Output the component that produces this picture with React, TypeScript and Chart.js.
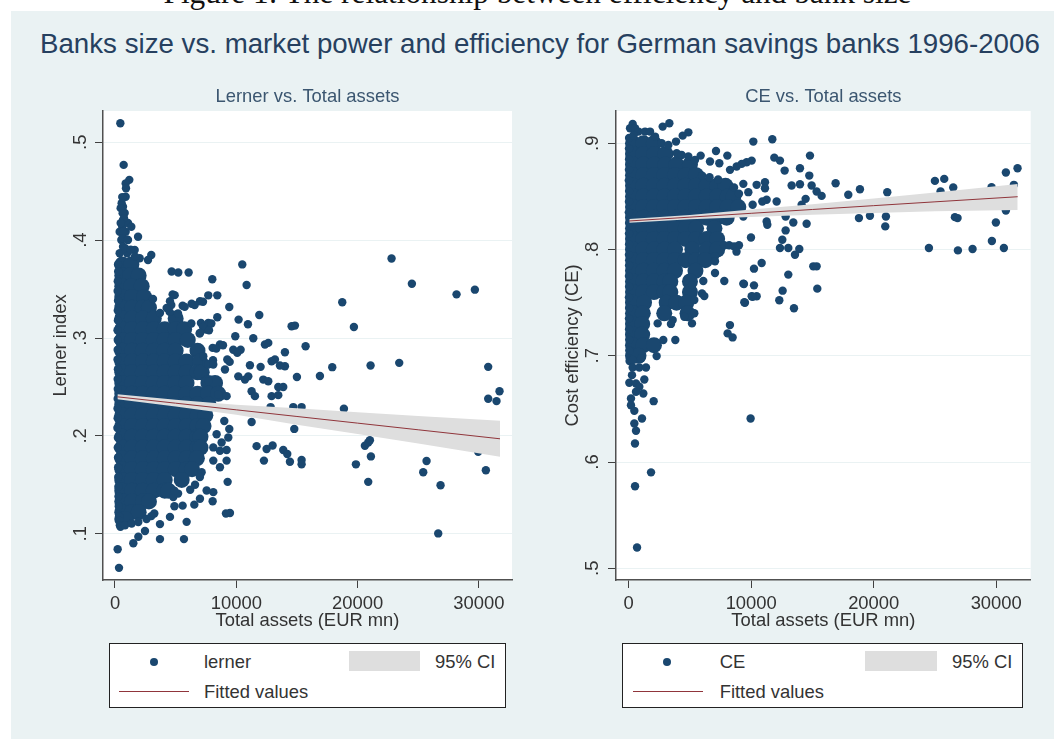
import React, { useEffect, useRef } from "react";
import { Chart, registerables } from "chart.js";

Chart.register(...registerables);

type P = [number, number];
type Row = [number, number[]];

const pageHeading = "Figure 1: The relationship between efficiency and bank size";
const mainTitle = "Banks size vs. market power and efficiency for German savings banks 1996-2006";
const xTicks = [0, 10000, 20000, 30000];
const lernerYTicks = [0.1, 0.2, 0.3, 0.4, 0.5];
const ceYTicks = [0.5, 0.6, 0.7, 0.8, 0.9];

// ---------- Lerner panel ----------
const lernerScattered: P[] = [
  [440,.5194],[714,.4769],[1181,.4616],[880,.458],[906,.453],[880,.4444],[600,.444],[660,.4342],[800,.4277],[660,.4206],[600,.4137],[1070,.4175],[385,.4086],[880,.4086],[1344,.4137],[1900,.4035],[520,.4002],[1070,.4002],[660,.3933],[1624,.3899],[385,.3866],[1000,.3866],[2035,.3815],[2990,.3848],[2720,.3797],[549,.4378],[467,.4327],[632,.4276],[742,.4225],[467,.4174],[687,.4089],[632,.4021],[1016,.4004],[824,.3919],[1291,.3902],[1648,.3834],
  [4670,.368],[5219,.367],[6071,.367],[8021,.36],[10493,.3752],[10851,.3541],[4752,.3446],[7692,.3436],[8433,.3436],[7005,.3375],[6318,.335],[5576,.333],[9422,.3317],[3132,.3399],[22800,.3813],[24476,.3555],[28157,.3446],[29668,.3494],[18735,.3365],[19696,.3113],[11895,.3235],[10191,.3188],[10961,.314],[8433,.3212],[7692,.3154],[7087,.3154],[7499,.3086],[9917,.3018],[11400,.2997],[8653,.2933],[8049,.2899],[12361,.2933],[12636,.295],[15713,.2916],[14010,.2855],[14834,.3127],[14560,.312],[9752,.288],[10356,.288],[10081,.2848],[9257,.278],[13186,.278],[12911,.2763],[11125,.2722],[12004,.2705],[14010,.2712],[13598,.2719],[17911,.2702],[21070,.2719],[23432,.2746],[30766,.2705],[9065,.2678],
  [7255,.3114],[7942,.3148],[7750,.308],[8354,.2892],[8904,.2926],[6293,.3148],[6980,.3046],[6568,.3336],[7255,.337],[5744,.3318],[4919,.3438],[4644,.3336],[5194,.325],[4507,.3267],[8079,.2773],[7530,.2739],[9453,.2756],
  [10164,.2608],[10988,.2608],[10713,.2575],[12224,.2575],[12636,.2558],[13872,.25],[13460,.25],[14998,.2602],[16894,.2612],[11263,.2456],[11537,.2406],[12911,.2406],[13460,.2416],[9202,.2406],[8516,.2423],[31700,.2456],[30766,.2379],[31453,.2355],[18872,.2277],[14696,.2294],[15383,.2294],[12829,.2294],[11263,.2142],[9010,.2152],[14779,.2071],[9422,.2071],[11675,.1895],[12499,.1865],[12993,.1902],[13872,.1855],[14202,.1814],[14422,.1736],[12279,.1747],[15383,.1753],[15383,.1709],[21015,.1956],[20877,.1932],[20603,.1899],[21097,.179],[19861,.1709],[20877,.153],[25685,.1743],[25410,.1628],[26839,.1496],[30574,.1648],[29942,.1838],[26646,.1003],
  [9202,.1855],[9202,.1747],[8653,.1679],[9285,.153],[8104,.1425],[7554,.1442],[7005,.1358],[8049,.1331],[6538,.1297],[5576,.1287],[4807,.1375],[9477,.1212],[9147,.1206],[5906,.1121],[5686,.0945],[3708,.0945],[2472,.1027],[1923,.0969],[1511,.0902],[220,.0841],[330,.0651],[4533,.1172],[3708,.1098],[3241,.1206],[7142,.1628],[8104,.1747],[8790,.1932],[9340,.1983],[8653,.1848],[8104,.1882],[8378,.2017],[7692,.2558],[3708,.3256],[4258,.3307],[4533,.3375],[7005,.3052],[7280,.2814],[7692,.2729],[8104,.2729],
  [400,.1087],[450,.107],[824,.1087],[1374,.1104],[1923,.112],[2600,.115],[3000,.118],[4900,.128],[5200,.141],[6200,.145],[6600,.15],[7000,.158],[4900,.144]
];
const lernerLeftEdge: P[] = [
  [250,.375],[260,.368],[230,.358],[220,.348],[250,.338],[230,.328],[240,.318],[210,.308],[230,.298],[220,.288],[210,.278],[240,.268],[220,.258],[230,.248],[220,.238],[210,.228],[220,.218],[200,.208],[240,.198],[230,.188],[250,.178],[260,.168],[270,.158],[280,.148],[290,.138],[310,.128],[340,.118],[380,.113]
];
const lernerCloudRows: Row[] = [
  [.375,[600,1350]],
  [.364,[600,1250,1950]],
  [.353,[600,1350,2200]],
  [.342,[600,1400,2400]],
  [.331,[600,1400,2300,2800]],
  [.32,[600,1400,2300,3200,5000]],
  [.309,[600,1400,2300,3200,4100,5000,5700]],
  [.298,[600,1400,2300,3200,4100,5000,6000]],
  [.287,[600,1400,2300,3200,4100,5000,6800]],
  [.276,[600,1400,2300,3200,4100,5000,5900,7000]],
  [.265,[600,1400,2300,3200,4100,5000,5900,6800,7150]],
  [.254,[600,1400,2300,3200,4100,5000,5900,7700,8250]],
  [.243,[600,1400,2300,3200,4100,5000,5900,6800,7700,8500]],
  [.232,[600,1400,2300,3200,4100,5000,5900,6800,7700]],
  [.221,[600,1400,2300,3200,4100,5000,5900,6800,7450]],
  [.21,[600,1400,2300,3200,4100,5000,5900,6800,7300]],
  [.199,[600,1400,2300,3200,4100,5000,5900,6800,7050]],
  [.188,[600,1400,2300,3200,4100,5000,5900,6800,7050]],
  [.177,[600,1400,2300,3200,4100,5000,5900,6750]],
  [.166,[600,1400,2300,3200,4100,5000,5900,6350]],
  [.155,[600,1400,2300,3200,4100,5500]],
  [.144,[600,1400,2300,3200,4100,4400]],
  [.133,[600,1400,2300,2800]],
  [.122,[600,1400,1950]],
  [.115,[600,850]]
];
const lernerFitX = [200, 5000, 10000, 15000, 20000, 25000, 31740];
const lernerFit = [.2399, .2334, .2266, .2198, .213, .2062, .197];
const lernerUpper = [.2424, .2369, .2317, .2283, .224, .2202, .2154];
const lernerLower = [.2374, .2299, .2215, .2113, .202, .1922, .1786];

// ---------- Cost efficiency panel ----------
const ceScattered: P[] = [
  [3318,.9188],[2774,.9157],[4869,.9103],[4406,.9072],[3862,.9016],[10173,.9016],[11723,.9038],[14797,.8884],[7126,.8928],[5875,.8884],[8051,.8884],[6637,.8828],[7398,.8812],[10037,.8837],[9629,.8822],[9221,.8806],[8813,.8781],[8269,.875],[11886,.8865],[12349,.8837],[12730,.8743],[13981,.8765],[14742,.8696],[16891,.8624],[13301,.8602],[13981,.8615],[14933,.8602],[9357,.8618],[10445,.8609],[11125,.8634],[11125,.8577],[9765,.854],[15341,.8546],[15749,.8505],[17925,.8515],[18877,.8568],[21107,.854],[24997,.8646],[25758,.8665],[26493,.8584],[25459,.8546],[29621,.8587],[30790,.8725],[31742,.8765],[31443,.8609],[14443,.8477],[12077,.8452],[11261,.8468],[10907,.8452],[10118,.8421],[14117,.8421],
  [9357,.8311],[12811,.8311],[11261,.8264],[11315,.8233],[13437,.8255],[14525,.8243],[12811,.818],[18795,.8296],[19693,.8318],[20998,.8311],[20944,.8218],[26629,.8305],[26846,.8296],[29974,.8255],[30790,.8368],[9982,.8114],[12539,.8092],[12349,.8014],[13029,.8014],[13926,.8005],[13573,.7951],[24507,.8014],[26874,.7992],[28070,.8005],[29648,.808],[30627,.8014],[10853,.7873],[10227,.782],[15069,.7842],[15341,.7842],[13029,.7764],[9357,.7679],[10227,.7663],[15395,.7632],[12566,.7613],[10037,.756],[10445,.756],[9438,.7504],[12294,.7523],[13491,.7447],
  [7800,.804],[8200,.804],[8600,.803],[9000,.804],[8800,.798],
  [5165,.7305],[8265,.7289],[8075,.7211],[8483,.7173],[9490,.7499],[10115,.7556],[9408,.7675],[7803,.7704],[6089,.7704],[5981,.7587],[6171,.7562],[5165,.7666],[5355,.7525],[5355,.74],[4539,.7368],[3587,.7336],[2363,.7305],[3450,.73],[7045,.7936],[7045,.789],[7045,.7779],
  [323,.696],[323,.689],[867,.689],[1411,.689],[1003,.6975],[2281,.6997],[2825,.7148],[3805,.7148],[269,.6818],[51,.6746],[595,.674],[867,.6708],[1275,.6777],[1193,.6645],[595,.6661],[187,.6598],[187,.6535],[459,.6482],[2037,.6573],[1085,.641],[459,.6363],[595,.6294],[513,.6174],[9952,.641],[1822,.5903],[517,.5772],[680,.5196],
  [326,.9182],[109,.9141],[517,.9141],[800,.911],[1333,.911],[1741,.911],[2149,.9063],[400,.9075],[2693,.9],[3237,.8984],[3917,.8906],[4325,.889],[4869,.8875],[5413,.8843],[6000,.8695],[6600,.868],[7300,.866],[8600,.8585],[9000,.8525]
];
const ceLeftEdge: P[] = [
  [30,.905],[20,.895],[30,.885],[20,.875],[10,.865],[30,.855],[20,.845],[10,.835],[30,.825],[20,.815],[30,.805],[20,.795],[30,.785],[20,.775],[30,.765],[20,.755],[30,.745],[20,.735],[30,.725],[40,.715],[50,.705],[70,.695]
];
const ceCloudRows: Row[] = [
  [.9,[350,1200,2050]],
  [.89,[350,1200,2100,3000]],
  [.88,[350,1200,2100,3000,3900,5000]],
  [.87,[350,1200,2060,2920,3780,4640,5500]],
  [.86,[350,1200,2060,2920,3780,4640,5500,6360,7220,7900]],
  [.85,[350,1200,2060,2920,3780,4640,5500,6360,7220,8080,8550]],
  [.84,[350,1200,2060,2920,3780,4640,5500,6360,7220,8080,8950]],
  [.83,[350,1200,2060,2920,3780,4640,5500,6360,7220,8000]],
  [.82,[350,1200,2060,2920,3780,4640,5500,7000]],
  [.81,[350,1200,2060,2920,3780,4640,5500,6360,7220]],
  [.8,[350,1200,2060,2920,3780,5200,6360,7220]],
  [.79,[350,1200,2060,2920,3780,4640,5500,6250]],
  [.78,[350,1200,2060,2920,3780,5450]],
  [.77,[350,1200,2060,2920,3400,5000]],
  [.76,[350,1200,2060,2920,3400,5000]],
  [.75,[350,1250,3100,3900,4700]],
  [.74,[350,1150,2900,4800]],
  [.73,[350,1100]],
  [.72,[350,1100]],
  [.71,[350,1200,2060]],
  [.7,[350,800]]
];
const ceFitX = [50, 5000, 10000, 15000, 20000, 25000, 31755];
const ceFit = [.8269, .8305, .8341, .8377, .8413, .8449, .8497];
const ceUpper = [.8287, .8325, .8376, .8427, .8481, .8537, .8617];
const ceLower = [.8251, .8285, .8306, .8327, .8345, .8361, .8372];

const NAVY = "#1a476f";
const BG = "#eaf2f3";
const MAROON = "#90353b";
const BAND = "#dedede";
const TEXT = "#333333";
const SANS = "'Liberation Sans', Arial, sans-serif";
const FONT_SIZE = 18.4;

const cloud = (rows: Row[]) => rows.flatMap(([y, xs]) => xs.map((x) => ({ x, y })));
const pts = (list: P[]) => list.map(([x, y]) => ({ x, y }));
const series = (xs: number[], ys: number[]) => xs.map((x, i) => ({ x, y: ys[i] }));

type PanelCfg = {
  left: number; width: number; yWidth: number; rightPad: number;
  xMin: number; xMax: number; yMin: number; yMax: number;
  title: string; yTitle: string; yTicks: number[]; yTitlePad: number; yTickPad: number;
  scattered: P[]; edge: P[]; rows: Row[];
  fitX: number[]; fit: number[]; upper: number[]; lower: number[]; name: string;
};

const panels: PanelCfg[] = [
  { left: 0, width: 530, yWidth: 103, rightPad: 18, xMin: -989, xMax: 32729, yMin: .0527, yMax: .532,
    title: "Lerner vs. Total assets", yTitle: "Lerner index", yTicks: lernerYTicks, yTitlePad: 50, yTickPad: 6.4,
    scattered: lernerScattered, edge: lernerLeftEdge, rows: lernerCloudRows,
    fitX: lernerFitX, fit: lernerFit, upper: lernerUpper, lower: lernerLower, name: "lerner" },
  { left: 530, width: 524, yWidth: 86, rightPad: 23.3, xMin: -1037, xMax: 32816, yMin: .489, yMax: .9304,
    title: "CE vs. Total assets", yTitle: "Cost efficiency (CE)", yTicks: ceYTicks, yTitlePad: 32, yTickPad: 7.4,
    scattered: ceScattered, edge: ceLeftEdge, rows: ceCloudRows,
    fitX: ceFitX, fit: ceFit, upper: ceUpper, lower: ceLower, name: "CE" },
];

const whitePlot = {
  id: "whitePlot",
  beforeDraw(c: any) {
    const { ctx, chartArea: a } = c;
    ctx.save();
    ctx.fillStyle = "#ffffff";
    ctx.fillRect(a.left, a.top, a.right - a.left, a.bottom - a.top);
    ctx.restore();
  },
};

function Panel({ cfg }: { cfg: PanelCfg }) {
  const ref = useRef<HTMLCanvasElement | null>(null);
  useEffect(() => {
    const marker = { showLine: false, backgroundColor: NAVY, borderWidth: 0, pointBorderWidth: 0, pointBackgroundColor: NAVY, pointHoverRadius: 4 };
    const chart = new Chart(ref.current as HTMLCanvasElement, {
      type: "scatter",
      data: {
        datasets: [
          { label: "Fitted values", type: "line", data: series(cfg.fitX, cfg.fit), borderColor: MAROON, borderWidth: 1, pointRadius: 0, order: 0, fill: false } as any,
          { label: "95% CI upper", type: "line", data: series(cfg.fitX, cfg.upper), borderWidth: 0, borderColor: "transparent", pointRadius: 0, order: 1, fill: false } as any,
          { label: "95% CI", type: "line", data: series(cfg.fitX, cfg.lower), borderWidth: 0, borderColor: "transparent", pointRadius: 0, order: 1, fill: { target: 1 }, backgroundColor: BAND } as any,
          { label: cfg.name, data: pts(cfg.scattered), pointRadius: 4.2, order: 2, ...marker },
          { label: cfg.name + " left edge", data: pts(cfg.edge), pointRadius: 4.2, order: 2, ...marker },
          { label: cfg.name + " dense mass", data: cloud(cfg.rows), pointRadius: 8, order: 2, ...marker },
        ],
      },
      options: {
        responsive: false,
        animation: false,
        events: [],
        layout: { padding: { left: 0, right: cfg.rightPad, top: 0, bottom: 0 } },
        plugins: {
          legend: { display: false },
          tooltip: { enabled: false },
          title: {
            display: true, text: cfg.title, color: "#3b5670", fullSize: false,
            font: { family: SANS, size: FONT_SIZE, weight: "normal", lineHeight: 1.2 },
            padding: { top: 6, bottom: 2.9 },
          },
        },
        scales: {
          x: {
            type: "linear", min: cfg.xMin, max: cfg.xMax,
            afterBuildTicks: (s: any) => { s.ticks = xTicks.map((value) => ({ value })); },
            afterFit: (s: any) => { s.height = 60; },
            grid: { drawOnChartArea: false, drawTicks: true, tickLength: 8, tickColor: "#404040", tickWidth: 1 },
            border: { color: "#505050", width: 1.5 },
            ticks: { color: TEXT, font: { family: SANS, size: FONT_SIZE }, padding: 4.5, maxRotation: 0, autoSkip: false,
              callback: (v: any) => String(v) },
            title: { display: true, text: "Total assets (EUR mn)", color: TEXT, font: { family: SANS, size: FONT_SIZE }, padding: { top: 0, bottom: 8.3 } },
          },
          y: {
            type: "linear", min: cfg.yMin, max: cfg.yMax,
            afterBuildTicks: (s: any) => { s.ticks = cfg.yTicks.map((value) => ({ value })); },
            afterFit: (s: any) => { s.width = cfg.yWidth; },
            grid: { color: BG, lineWidth: 1, tickLength: 8, tickColor: "#404040", tickWidth: 1 },
            border: { color: "#505050", width: 1.5 },
            ticks: {
              color: TEXT, font: { family: SANS, size: FONT_SIZE }, minRotation: 90, maxRotation: 90, crossAlign: "center",
              padding: cfg.yTickPad, autoSkip: false,
              callback: (v: any) => Number(v).toFixed(1).replace(/^0/, ""),
            },
            title: { display: true, text: cfg.yTitle, color: TEXT, font: { family: SANS, size: FONT_SIZE }, padding: { top: cfg.yTitlePad, bottom: 0 } },
          },
        },
      } as any,
      plugins: [whitePlot],
    } as any);
    return () => chart.destroy();
  }, [cfg]);
  return <canvas ref={ref} width={cfg.width} height={560} style={{ position: "absolute", left: cfg.left, top: 80, width: cfg.width, height: 560 }} />;
}

const abs = (o: React.CSSProperties): React.CSSProperties => ({ position: "absolute", ...o });

function LegendBox({ left, width, name, dx }: { left: number; width: number; name: string; dx: number[] }) {
  const label = (text: string, x: number, cy: number) => (
    <div style={abs({ left: x - left, top: cy - 642.7 - 12, height: 24, lineHeight: "24px", fontSize: FONT_SIZE, color: TEXT, whiteSpace: "nowrap" })}>{text}</div>
  );
  return (
    <div style={abs({ left, top: 642.7, width, height: 65, background: "#fff", border: "1px solid #222", boxSizing: "border-box", fontFamily: SANS })}>
      <div style={abs({ left: dx[0] - left - 4, top: 661 - 642.7 - 4, width: 8, height: 8, borderRadius: 4, background: NAVY })} />
      {label(name, dx[1], 661)}
      <div style={abs({ left: dx[2] - left, top: 650 - 642.7, width: dx[3] - dx[2], height: 20, background: BAND })} />
      {label("95% CI", dx[4], 661)}
      <div style={abs({ left: dx[5] - left, top: 690 - 642.7, width: dx[6] - dx[5], height: 1, background: MAROON })} />
      {label("Fitted values", dx[1], 691)}
    </div>
  );
}

export default function App() {
  return (
    <div style={{ position: "fixed", left: 0, top: 0, width: 1054, height: 739, overflow: "hidden", background: "#fff" }}>
      <div style={abs({ left: 10.5, width: 1054, top: -21.7, textAlign: "center", fontFamily: "'Liberation Serif', serif", fontSize: 31.3, lineHeight: "30px", color: "#111", whiteSpace: "nowrap" })}>{pageHeading}</div>
      <div style={abs({ left: 11, top: 11, width: 1043, height: 728, background: BG })} />
      <div style={abs({ left: 40, top: 29, fontFamily: SANS, fontSize: 27.7, lineHeight: "30px", color: "#26405f", whiteSpace: "nowrap" })}>{mainTitle}</div>
      {panels.map((p) => <Panel key={p.name} cfg={p} />)}
      <LegendBox left={109} width={397} name="lerner" dx={[153.3, 203, 348, 419, 434, 118, 187.7]} />
      <LegendBox left={622.3} width={401} name="CE" dx={[666, 718.7, 864, 936, 951, 631.7, 702]} />
    </div>
  );
}
